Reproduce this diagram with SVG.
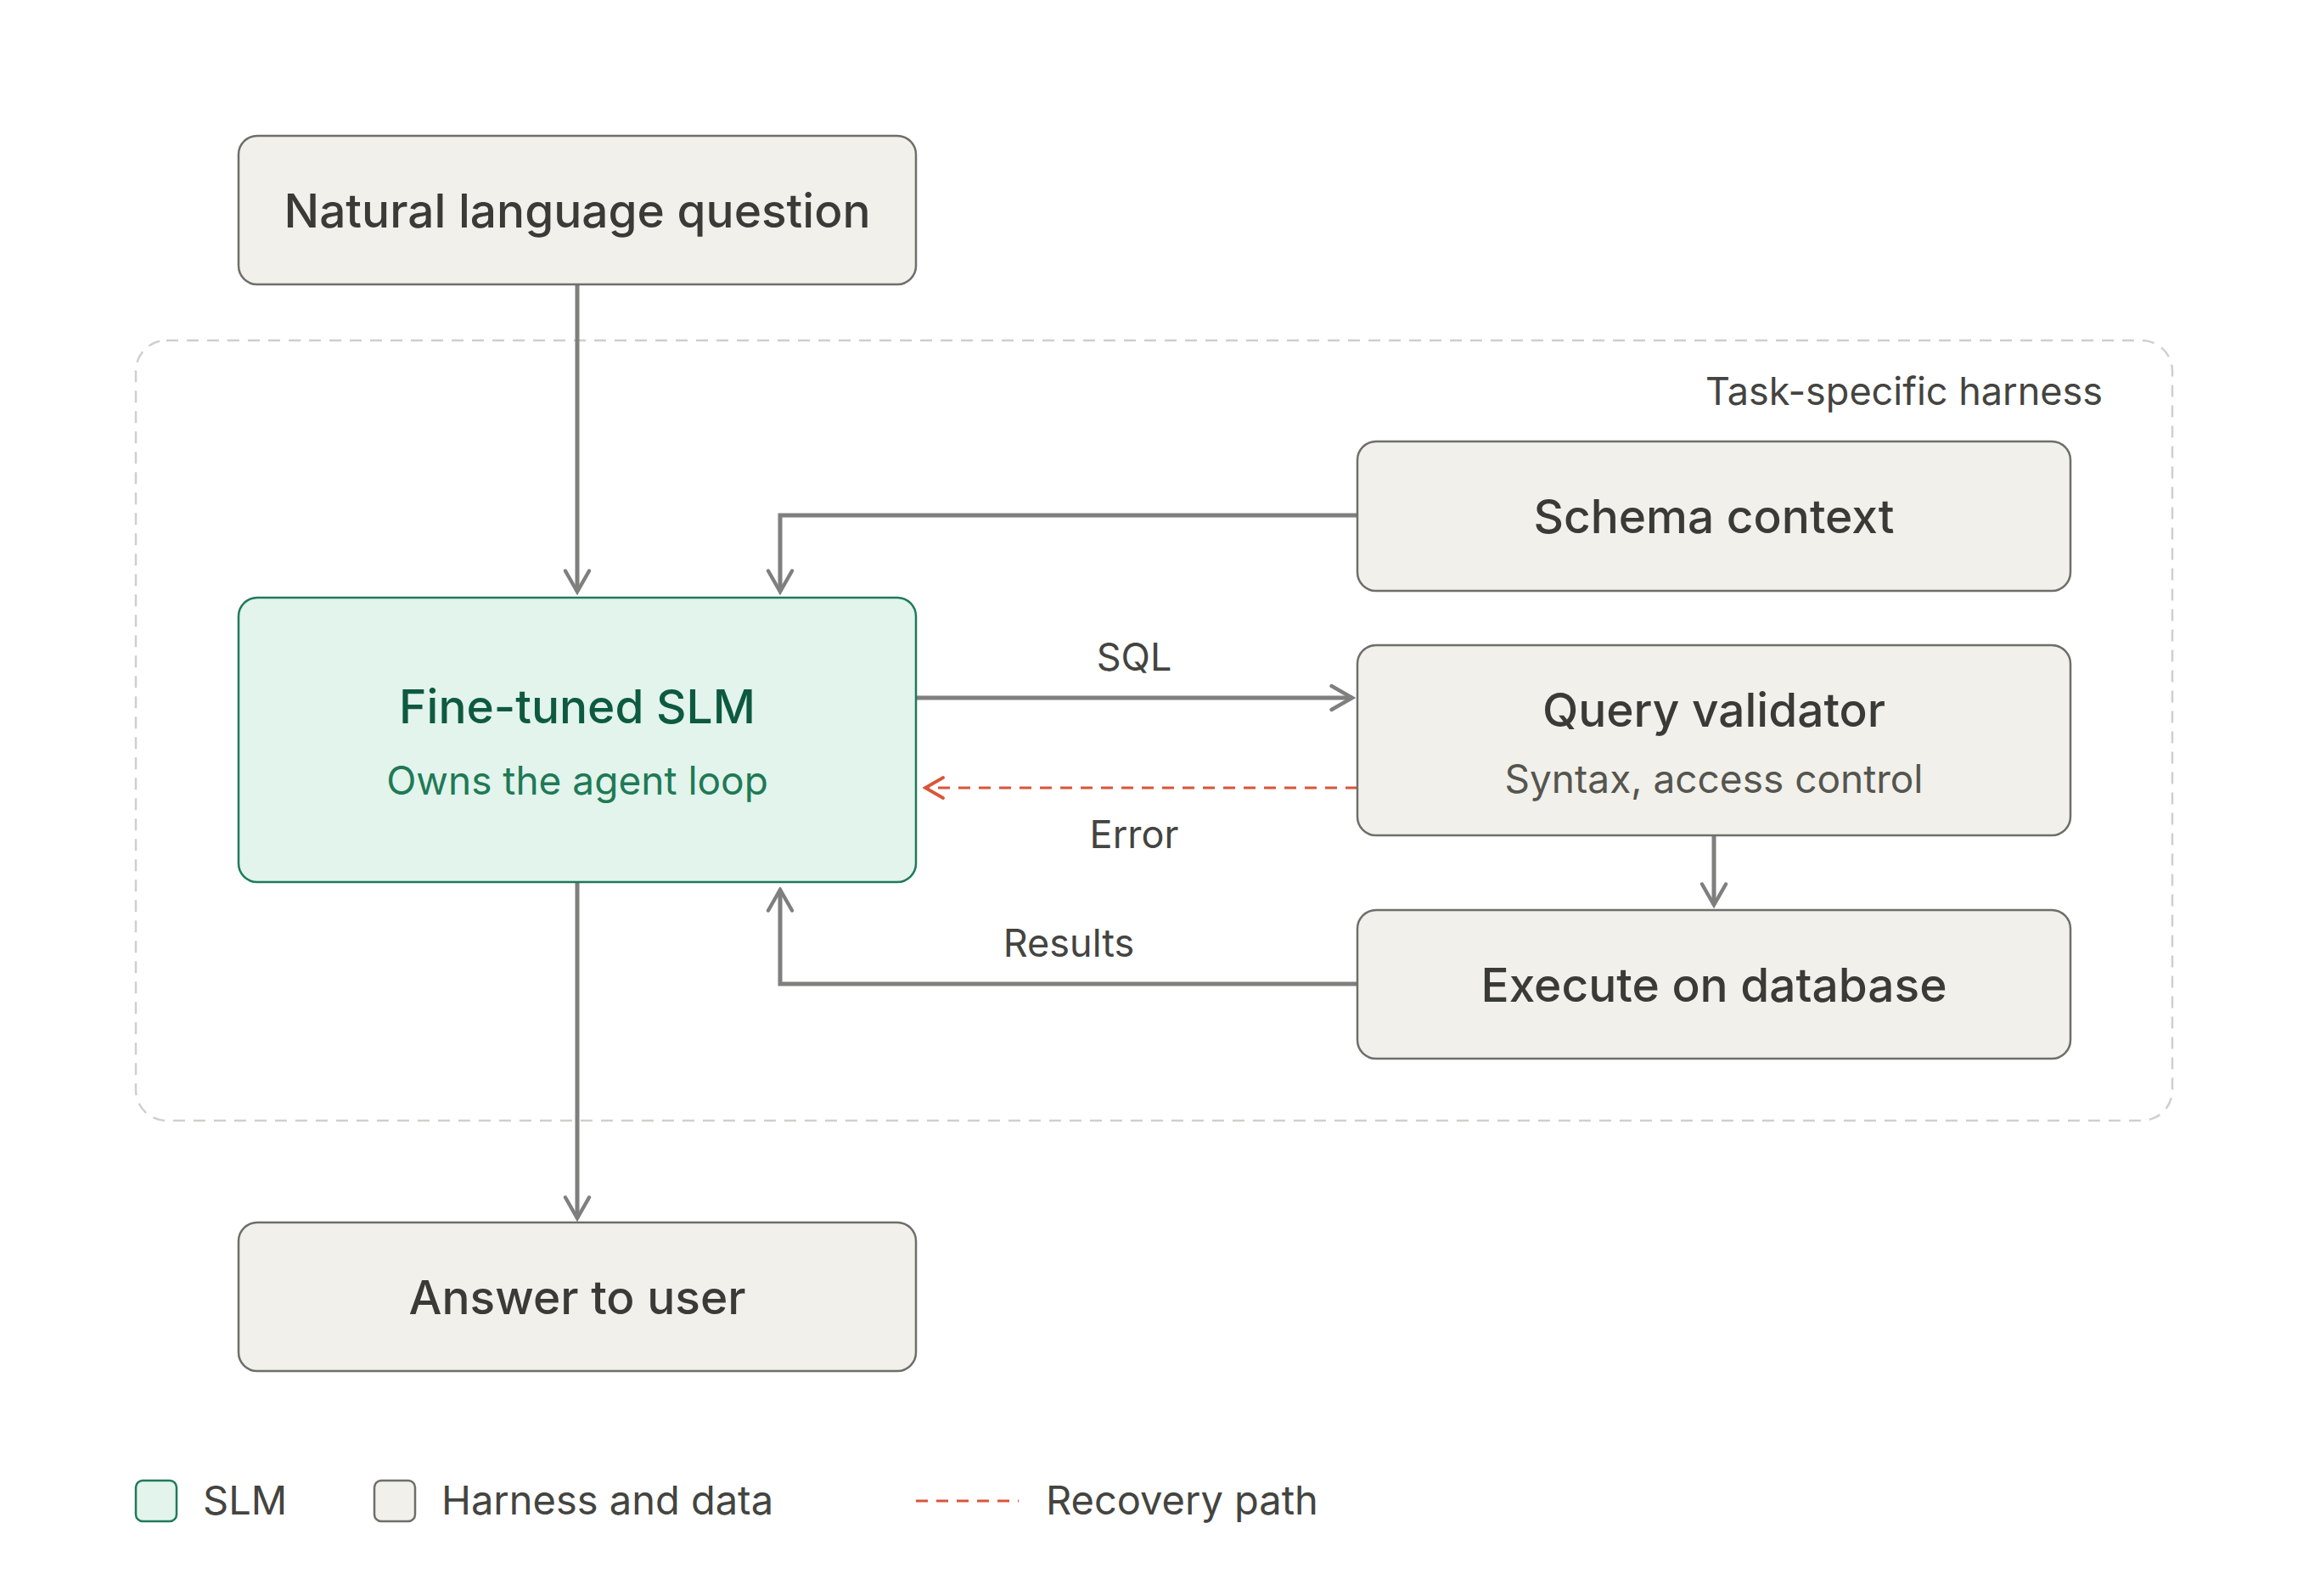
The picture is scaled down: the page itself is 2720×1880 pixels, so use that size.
<svg xmlns="http://www.w3.org/2000/svg" width="2720" height="1880" viewBox="0 0 2720 1880">
<style>
.box{fill:#f1f0eb;stroke:#6e6e6a;stroke-width:2.5}
.slm{fill:#e2f4ec;stroke:#1f7a5a;stroke-width:2.5}
.t{font-family:Inter,"Noto Sans",sans-serif;font-size:55px;fill:#3a3a36;text-anchor:middle;font-weight:500}
.s{font-family:Inter,"Noto Sans",sans-serif;font-size:46px;fill:#55554f;text-anchor:middle}
.l{font-family:Inter,"Noto Sans",sans-serif;font-size:45px;fill:#444440}
.c{fill:none;stroke:#7f7f7d;stroke-width:5}
</style>
<defs>
<marker id="a" viewBox="0 0 20 20" refX="18" refY="10" markerWidth="7" markerHeight="7" markerUnits="strokeWidth" orient="auto"><path d="M4 2 L18 10 L4 18" fill="none" stroke="#7f7f7d" stroke-width="2.5" stroke-linecap="round"/></marker>
<marker id="r" viewBox="0 0 20 20" refX="18" refY="10" markerWidth="10" markerHeight="10" markerUnits="strokeWidth" orient="auto"><path d="M4 2 L18 10 L4 18" fill="none" stroke="#d9553a" stroke-width="2.5" stroke-linecap="round"/></marker>
</defs>
<rect width="2720" height="1880" fill="#ffffff"/>
<g id="harness">
<rect x="160" y="401" width="2399" height="919" rx="36" fill="none" stroke="#cfcfcb" stroke-width="2.5" stroke-dasharray="14 10"/>
<text class="l" x="2477" y="477" text-anchor="end">Task-specific harness</text>
</g>
<g id="connectors">
<path class="c" d="M680 335 V697" marker-end="url(#a)"/>
<path class="c" d="M1599 607 H919 V697" marker-end="url(#a)"/>
<path class="c" d="M1079 822 H1593" marker-end="url(#a)"/>
<path d="M1599 928 H1090" fill="none" stroke="#d9553a" stroke-width="3" stroke-dasharray="14 10" marker-end="url(#r)"/>
<path class="c" d="M2019 984 V1066" marker-end="url(#a)"/>
<path class="c" d="M1599 1159 H919 V1048" marker-end="url(#a)"/>
<path class="c" d="M680 1039 V1435" marker-end="url(#a)"/>
<text class="l" x="1336" y="790" text-anchor="middle">SQL</text>
<text class="l" x="1336" y="999" text-anchor="middle">Error</text>
<text class="l" x="1259" y="1127" text-anchor="middle">Results</text>
</g>
<g id="nlq"><rect class="box" x="281" y="160" width="798" height="175" rx="22"/><text class="t" x="680" y="268">Natural language question</text></g>
<g id="schema"><rect class="box" x="1599" y="520" width="840" height="176" rx="22"/><text class="t" x="2019" y="628">Schema context</text></g>
<g id="slm"><rect class="slm" x="281" y="704" width="798" height="335" rx="22"/><text class="t" x="680" y="852" style="fill:#0e5a40">Fine-tuned SLM</text><text class="s" x="680" y="936" style="fill:#1f7a55">Owns the agent loop</text></g>
<g id="validator"><rect class="box" x="1599" y="760" width="840" height="224" rx="22"/><text class="t" x="2019" y="856">Query validator</text><text class="s" x="2019" y="934">Syntax, access control</text></g>
<g id="execute"><rect class="box" x="1599" y="1072" width="840" height="175" rx="22"/><text class="t" x="2019" y="1180">Execute on database</text></g>
<g id="answer"><rect class="box" x="281" y="1440" width="798" height="175" rx="22"/><text class="t" x="680" y="1548">Answer to user</text></g>
<g id="legend">
<rect class="slm" x="160" y="1744" width="48" height="48" rx="8"/><text class="l" x="239" y="1784" style="font-size:47px">SLM</text>
<rect class="box" x="441" y="1744" width="48" height="48" rx="8"/><text class="l" x="520" y="1784" style="font-size:47px">Harness and data</text>
<path d="M1079 1768 H1200" stroke="#d9553a" stroke-width="3" stroke-dasharray="14 10"/><text class="l" x="1232" y="1784" style="font-size:47px">Recovery path</text>
</g>
</svg>
